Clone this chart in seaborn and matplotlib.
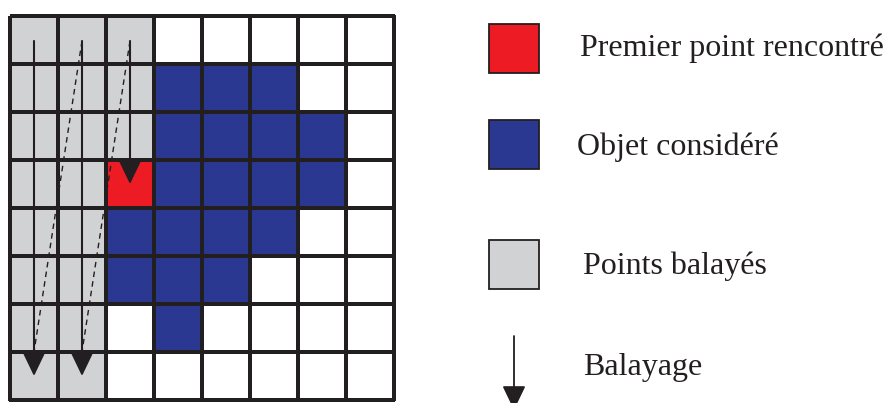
import numpy as np
import pandas as pd
import matplotlib
matplotlib.use("Agg")
import matplotlib.pyplot as plt
from matplotlib.colors import ListedColormap
from matplotlib.patches import Rectangle
import seaborn as sns

# 0 = white, 1 = scanned (gray), 2 = object (blue), 3 = first point met (red)
row0 = [1, 1, 1, 0, 0, 0, 0, 0]
row1 = [1, 1, 1, 2, 2, 2, 0, 0]
row2 = [1, 1, 1, 2, 2, 2, 2, 0]
row3 = [1, 1, 3, 2, 2, 2, 2, 0]
row4 = [1, 1, 2, 2, 2, 2, 0, 0]
row5 = [1, 1, 2, 2, 2, 0, 0, 0]
row6 = [1, 1, 0, 2, 0, 0, 0, 0]
row7 = [1, 1, 0, 0, 0, 0, 0, 0]
grid = np.array([row0, row1, row2, row3, row4, row5, row6, row7])

legend_labels = ["Premier point rencontré", "Objet considéré", "Points balayés", "Balayage"]

# scan paths (column index, end row) in cell units
scan_cols = [0, 1, 2]
scan_end = [7.5, 7.5, 3.5]

WHITE = "#FFFFFF"
GRAY = "#D1D2D4"
BLUE = "#2B3891"
RED = "#ED1C24"
DARK = "#231F20"

sns.set_style("white")
plt.rcParams["font.family"] = ["Liberation Serif", "DejaVu Serif"]

fig = plt.figure(figsize=(8.84, 4.03), dpi=100)
W, H = 884, 403
ax = fig.add_axes([10 / W, (H - 400) / H, 384 / W, 384 / H])

cmap = ListedColormap([WHITE, GRAY, BLUE, RED])
sns.heatmap(pd.DataFrame(grid), ax=ax, cmap=cmap, vmin=-0.5, vmax=3.5, cbar=False,
            linewidths=1.5, linecolor=DARK, square=False, xticklabels=False,
            yticklabels=False)
ax.collections[0].set_clip_on(False)

start_y = 0.52
for c, e in zip(scan_cols, scan_end):
    ax.annotate("", xy=(c + 0.5, e), xytext=(c + 0.5, start_y),
                arrowprops=dict(arrowstyle="-|>,head_length=0.75,head_width=0.36",
                                mutation_scale=20, color=DARK, lw=1.5,
                                shrinkA=0, shrinkB=0), annotation_clip=False)
# dashed return lines
for c in scan_cols[1:]:
    ax.plot([c + 0.5, c - 0.5], [start_y, 7.0], color=DARK, lw=1.0,
            ls=(0, (4, 3)), clip_on=False)

# legend overlay in pixel coordinates
lax = fig.add_axes([0, 0, 1, 1])
lax.set_xlim(0, W)
lax.set_ylim(H, 0)
lax.axis("off")
lax.patch.set_alpha(0)

boxes = [(24, RED), (120, BLUE), (240, GRAY)]
for y0, col in boxes:
    lax.add_patch(Rectangle((489, y0), 50, 49, facecolor=col, edgecolor=DARK, lw=1.3))

text_pos = [(580, 56), (577, 155), (583, 274), (583, 375)]
for (x, y), lab in zip(text_pos, legend_labels):
    lax.text(x, y, lab, fontsize=23, va="baseline", ha="left", color=DARK)

lax.annotate("", xy=(514, 410), xytext=(514, 336),
             arrowprops=dict(arrowstyle="-|>,head_length=0.75,head_width=0.36",
                             mutation_scale=20, color=DARK, lw=1.3,
                             shrinkA=0, shrinkB=0), annotation_clip=False)

fig.savefig("out.png", dpi=100)
